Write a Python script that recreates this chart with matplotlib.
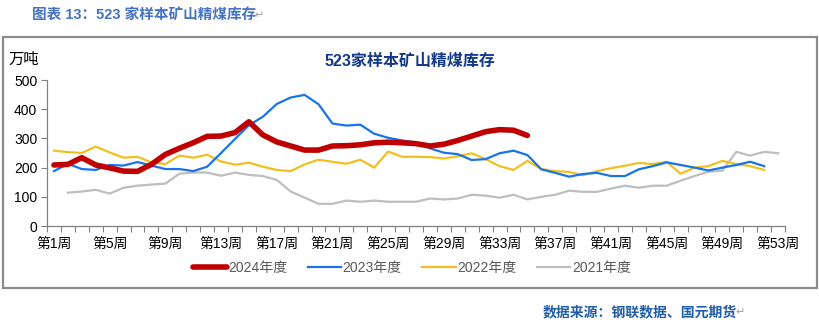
import numpy as np
import matplotlib
matplotlib.use("Agg")
import matplotlib.pyplot as plt
from matplotlib.patches import Rectangle

plt.rcParams['font.family'] = ['Liberation Sans', 'Noto Sans CJK SC', 'DejaVu Sans']

# weekly stock, 10k tonnes
weeks = list(range(1, 54))

y2024 = [209, 211, 234, 209, 199, 188, 187, 211, 245, 266, 285, 307, 308, 320,
         357, 312, 288, 274, 260, 260, 274, 275, 278, 285, 287, 285, 282, 274,
         280, 293, 308, 323, 330, 328, 310]

y2023 = [188, 213, 195, 192, 209, 207, 219, 207, 195, 195, 188, 203, 250, 298,
         345, 374, 418, 440, 449, 417, 351, 344, 347, 316, 302, 293, 286, 266,
         251, 246, 226, 229, 249, 258, 243, 194, 182, 169, 178, 182, 171, 171,
         194, 205, 218, 209, 200, 190, 200, 209, 220, 205]

y2022 = [258, 253, 250, 272, 252, 234, 237, 218, 212, 241, 234, 244, 221, 210,
         217, 203, 192, 188, 211, 227, 220, 213, 227, 200, 255, 237, 237, 236,
         231, 239, 249, 229, 205, 192, 223, 195, 188, 185, 174, 188, 198, 206,
         216, 212, 220, 179, 200, 205, 223, 212, 205, 192]

# 2021 starts at week 2
y2021 = [np.nan, 114, 118, 124, 111, 131, 138, 142, 145, 179, 183, 183, 172, 183,
         175, 171, 158, 118, 97, 76, 76, 87, 83, 87, 83, 83, 83, 94,
         91, 94, 107, 104, 97, 107, 91, 100, 107, 121, 117, 117, 128, 138,
         131, 138, 138, 155, 171, 186, 189, 254, 241, 254, 249]

tick_weeks = list(range(1, 54, 4))
tick_labels = [f"第{w}周" for w in tick_weeks]

W, H = 820, 322
fig = plt.figure(figsize=(W / 100, H / 100), dpi=100)

# frame around the chart
fig.patches.append(Rectangle((3 / W, 1 - 288 / H), 814 / W, 251 / H,
                             transform=fig.transFigure, fill=False,
                             edgecolor="#8c8c8c", linewidth=1.6))

ax = fig.add_axes([47 / W, 1 - 226 / H, 738 / W, 146 / H])

ax.plot(weeks[:len(y2023)], y2023, color="#1874E8", lw=1.6, label="2023年度", zorder=3)
ax.plot(weeks[:len(y2022)], y2022, color="#F2C01E", lw=1.6, label="2022年度", zorder=2)
ax.plot(weeks[:len(y2021)], y2021, color="#BEBEBE", lw=1.6, label="2021年度", zorder=1)
ax.plot(weeks[:len(y2024)], y2024, color="#C00000", lw=4, label="2024年度",
        zorder=4, solid_capstyle="round", solid_joinstyle="round")

ax.set_xlim(0.5, 53.5)
ax.set_ylim(0, 500)
ax.set_yticks([0, 100, 200, 300, 400, 500])
ax.set_xticks(tick_weeks)
ax.set_xticklabels(tick_labels)
ax.set_xticks(np.arange(0.5, 54, 1), minor=True)
ax.tick_params(axis="x", which="major", length=0, pad=8, labelsize=10, colors="#000000")
ax.tick_params(axis="x", which="minor", length=4, width=0.8, color="#808080")
ax.tick_params(axis="y", length=4, width=0.8, color="#808080", labelsize=10,
               labelcolor="#000000", pad=3)
for s in ["top", "right"]:
    ax.spines[s].set_visible(False)
for s in ["left", "bottom"]:
    ax.spines[s].set_color("#808080")
    ax.spines[s].set_linewidth(0.9)
ax.patch.set_alpha(0)

# legend order as in the original
h, l = ax.get_legend_handles_labels()
order = [3, 0, 1, 2]
leg = fig.legend([h[i] for i in order], [l[i] for i in order], ncol=4,
                 loc="center", bbox_to_anchor=(412 / W, 1 - 268 / H), frameon=False,
                 handlelength=2.4, handletextpad=0.1, columnspacing=1.5,
                 fontsize=10)
for t in leg.get_texts():
    t.set_color("#595959")

# texts
hdr = fig.text(32 / W, 1 - 15 / H, "图表 13：523 家样本矿山精煤库存", fontsize=10.5,
               fontweight="bold", color="#4472C4", va="center", ha="left")
fig.text(8 / W, 1 - 60 / H, "万吨", fontsize=11, color="#000000", va="center", ha="left")
fig.text(410 / W, 1 - 61 / H, "523家样本矿山精煤库存", fontsize=11.5, fontweight="bold",
         color="#12388A", va="center", ha="center")
src = fig.text(543 / W, 1 - 312 / H, "数据来源：钢联数据、国元期货", fontsize=10,
               fontweight="bold", color="#1F5DA8", va="center", ha="left")

# word paragraph marks after the header and the source line
for art in (hdr, src):
    ax.annotate("↵", xy=(1, 0.5), xycoords=art, xytext=(-1, 0),
                textcoords="offset points", va="center", ha="left",
                fontsize=8, color="#A0A0A0", family=["DejaVu Sans"],
                annotation_clip=False)

fig.savefig("out.png", dpi=100)
